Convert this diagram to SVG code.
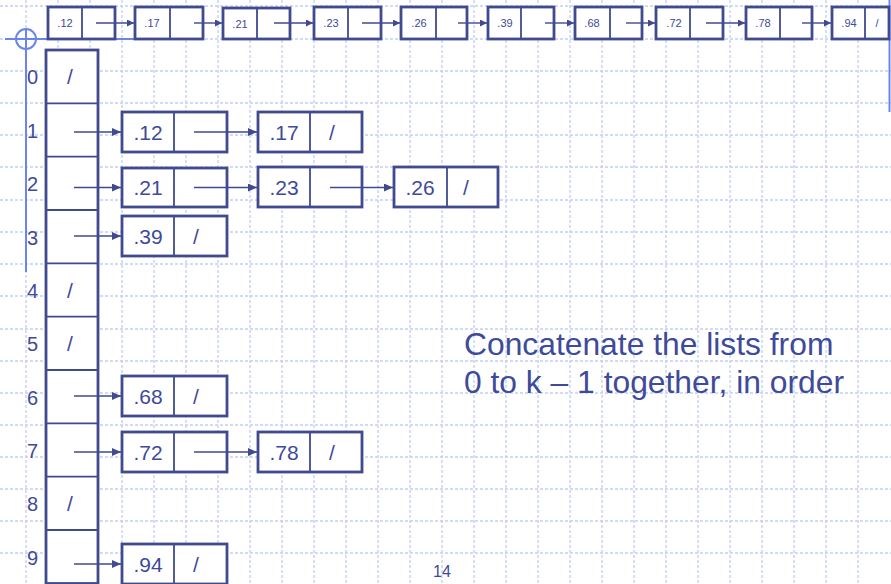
<svg xmlns="http://www.w3.org/2000/svg" width="891" height="584" viewBox="0 0 891 584">
<style>
.grid line{stroke:#c2cef5;stroke-width:1.3;stroke-dasharray:3 2}
.accent{stroke:#6a86ee;stroke-width:2;fill:none}
.bx{fill:#fff;stroke:#3f4a8f;stroke-width:2.8}
.dv{stroke:#3f4a8f;stroke-width:1.8}
.conn line{stroke:#3f4a8f;stroke-width:1.4}
.big{font-family:"Liberation Sans",Arial,sans-serif;font-size:21px;fill:#3e4a9a;text-anchor:middle}
.sm{font-family:"Liberation Sans",Arial,sans-serif;font-size:11px;fill:#3e4a9a;text-anchor:middle}
.idx{font-family:"Liberation Sans",Arial,sans-serif;font-size:20px;fill:#3e4a9a}
.title{font-family:"Liberation Sans",Arial,sans-serif;font-size:31.8px;fill:#3e4a9a}
</style>
<defs>
<marker id="ah" viewBox="0 0 10 10" refX="10" refY="5" markerWidth="7" markerHeight="7" markerUnits="userSpaceOnUse" orient="auto" preserveAspectRatio="none"><path d="M0,0 L10,5 L0,10 z" fill="#3f4a8f"/></marker>
<marker id="ahb" viewBox="0 0 10 10" refX="10" refY="5" markerWidth="9" markerHeight="8" markerUnits="userSpaceOnUse" orient="auto" preserveAspectRatio="none"><path d="M0,0 L10,5 L0,10 z" fill="#3f4a8f"/></marker>
</defs>
<rect width="891" height="584" fill="#fff"/>
<g class="grid">
<line x1="0" y1="6" x2="891" y2="6"/><line x1="0" y1="39" x2="891" y2="39"/><line x1="0" y1="71" x2="891" y2="71"/><line x1="0" y1="103" x2="891" y2="103"/><line x1="0" y1="135" x2="891" y2="135"/><line x1="0" y1="167" x2="891" y2="167"/><line x1="0" y1="200" x2="891" y2="200"/><line x1="0" y1="232" x2="891" y2="232"/><line x1="0" y1="264" x2="891" y2="264"/><line x1="0" y1="296" x2="891" y2="296"/><line x1="0" y1="329" x2="891" y2="329"/><line x1="0" y1="361" x2="891" y2="361"/><line x1="0" y1="393" x2="891" y2="393"/><line x1="0" y1="425" x2="891" y2="425"/><line x1="0" y1="457" x2="891" y2="457"/><line x1="0" y1="489" x2="891" y2="489"/><line x1="0" y1="521" x2="891" y2="521"/><line x1="0" y1="553" x2="891" y2="553"/>
<line x1="26" y1="0" x2="26" y2="584"/><line x1="58" y1="0" x2="58" y2="584"/><line x1="90" y1="0" x2="90" y2="584"/><line x1="122" y1="0" x2="122" y2="584"/><line x1="154" y1="0" x2="154" y2="584"/><line x1="186" y1="0" x2="186" y2="584"/><line x1="218" y1="0" x2="218" y2="584"/><line x1="250" y1="0" x2="250" y2="584"/><line x1="282" y1="0" x2="282" y2="584"/><line x1="314" y1="0" x2="314" y2="584"/><line x1="346" y1="0" x2="346" y2="584"/><line x1="378" y1="0" x2="378" y2="584"/><line x1="410" y1="0" x2="410" y2="584"/><line x1="442" y1="0" x2="442" y2="584"/><line x1="474" y1="0" x2="474" y2="584"/><line x1="506" y1="0" x2="506" y2="584"/><line x1="538" y1="0" x2="538" y2="584"/><line x1="570" y1="0" x2="570" y2="584"/><line x1="602" y1="0" x2="602" y2="584"/><line x1="634" y1="0" x2="634" y2="584"/><line x1="666" y1="0" x2="666" y2="584"/><line x1="698" y1="0" x2="698" y2="584"/><line x1="730" y1="0" x2="730" y2="584"/><line x1="762" y1="0" x2="762" y2="584"/><line x1="794" y1="0" x2="794" y2="584"/><line x1="826" y1="0" x2="826" y2="584"/><line x1="858" y1="0" x2="858" y2="584"/>
</g>
<g id="accent">
<line class="accent" x1="5" y1="39" x2="136" y2="39"/>
<line class="accent" x1="26" y1="29" x2="26" y2="272"/>
<circle class="accent" cx="26" cy="39" r="10" stroke-width="1.5"/>
<line class="accent" x1="889.5" y1="0" x2="889.5" y2="112" stroke-width="2.5"/>
</g>
<g id="top-list">
<g id="t12"><rect class="bx" x="48" y="7" width="67" height="32"/><line class="dv" x1="82" y1="7" x2="82" y2="39"/><text class="sm" x="65" y="27">.12</text></g>
<g id="t17"><rect class="bx" x="135" y="7" width="68" height="32"/><line class="dv" x1="170" y1="7" x2="170" y2="39"/><text class="sm" x="152" y="27">.17</text></g>
<g id="t21"><rect class="bx" x="223" y="8" width="67" height="31"/><line class="dv" x1="257" y1="8" x2="257" y2="39"/><text class="sm" x="240" y="28">.21</text></g>
<g id="t23"><rect class="bx" x="314" y="7" width="67" height="32"/><line class="dv" x1="348" y1="7" x2="348" y2="39"/><text class="sm" x="331" y="27">.23</text></g>
<g id="t26"><rect class="bx" x="401" y="7" width="66" height="32"/><line class="dv" x1="436" y1="7" x2="436" y2="39"/><text class="sm" x="419" y="27">.26</text></g>
<g id="t39"><rect class="bx" x="488" y="7" width="66" height="32"/><line class="dv" x1="521" y1="7" x2="521" y2="39"/><text class="sm" x="505" y="27">.39</text></g>
<g id="t68"><rect class="bx" x="575" y="7" width="67" height="32"/><line class="dv" x1="610" y1="7" x2="610" y2="39"/><text class="sm" x="592" y="27">.68</text></g>
<g id="t72"><rect class="bx" x="656" y="7" width="67" height="32"/><line class="dv" x1="690" y1="7" x2="690" y2="39"/><text class="sm" x="674" y="27">.72</text></g>
<g id="t78"><rect class="bx" x="746" y="7" width="66" height="32"/><line class="dv" x1="780" y1="7" x2="780" y2="39"/><text class="sm" x="763" y="27">.78</text></g>
<g id="t94"><rect class="bx" x="832" y="7" width="57" height="32"/><line class="dv" x1="865" y1="7" x2="865" y2="39"/><text class="sm" x="849" y="27">.94</text><text class="sm" x="877" y="27">/</text></g>
</g>
<g id="array">
<rect class="bx" x="46" y="50" width="52" height="533.5"/>
<g class="dv"><line x1="46" y1="103.3" x2="98" y2="103.3"/><line x1="46" y1="156.7" x2="98" y2="156.7"/><line x1="46" y1="210" x2="98" y2="210"/><line x1="46" y1="263.3" x2="98" y2="263.3"/><line x1="46" y1="316.7" x2="98" y2="316.7"/><line x1="46" y1="370" x2="98" y2="370"/><line x1="46" y1="423.3" x2="98" y2="423.3"/><line x1="46" y1="476.7" x2="98" y2="476.7"/><line x1="46" y1="530" x2="98" y2="530"/></g>
<text class="big" x="70" y="84">/</text>
<text class="big" x="70" y="298">/</text>
<text class="big" x="70" y="351">/</text>
<text class="big" x="70" y="511">/</text>
<text class="idx" x="27" y="84">0</text><text class="idx" x="27" y="138">1</text><text class="idx" x="27" y="191">2</text><text class="idx" x="27" y="245">3</text><text class="idx" x="27" y="298">4</text><text class="idx" x="27" y="351">5</text><text class="idx" x="27" y="405">6</text><text class="idx" x="27" y="458">7</text><text class="idx" x="27" y="511">8</text><text class="idx" x="27" y="565">9</text>
</g>
<g id="r12"><rect class="bx" x="122" y="112" width="105" height="40"/><line class="dv" x1="174" y1="112" x2="174" y2="152"/><text class="big" x="148" y="139.5">.12</text></g>
<g id="r17"><rect class="bx" x="258" y="112" width="104" height="40"/><line class="dv" x1="310" y1="112" x2="310" y2="152"/><text class="big" x="284" y="139.5">.17</text><text class="big" x="332" y="139.5">/</text></g>
<g id="r21"><rect class="bx" x="122" y="168" width="105" height="39"/><line class="dv" x1="174" y1="168" x2="174" y2="207"/><text class="big" x="148" y="195">.21</text></g>
<g id="r23"><rect class="bx" x="258" y="167" width="104" height="40"/><line class="dv" x1="310" y1="167" x2="310" y2="207"/><text class="big" x="284" y="195">.23</text></g>
<g id="r26"><rect class="bx" x="394" y="167" width="104" height="40"/><line class="dv" x1="447" y1="167" x2="447" y2="207"/><text class="big" x="420" y="195">.26</text><text class="big" x="466" y="195">/</text></g>
<g id="r39"><rect class="bx" x="122" y="216" width="105" height="40"/><line class="dv" x1="174" y1="216" x2="174" y2="256"/><text class="big" x="148" y="243.5">.39</text><text class="big" x="196" y="243.5">/</text></g>
<g id="r68"><rect class="bx" x="122" y="376" width="105" height="40"/><line class="dv" x1="174" y1="376" x2="174" y2="416"/><text class="big" x="148" y="403.5">.68</text><text class="big" x="196" y="403.5">/</text></g>
<g id="r72"><rect class="bx" x="122" y="432" width="105" height="40"/><line class="dv" x1="174" y1="432" x2="174" y2="472"/><text class="big" x="148" y="459.5">.72</text></g>
<g id="r78"><rect class="bx" x="258" y="432" width="104" height="40"/><line class="dv" x1="310" y1="432" x2="310" y2="472"/><text class="big" x="284" y="459.5">.78</text><text class="big" x="332" y="459.5">/</text></g>
<g id="r94"><rect class="bx" x="122" y="544" width="105" height="40"/><line class="dv" x1="174" y1="544" x2="174" y2="584"/><text class="big" x="148" y="571.5">.94</text><text class="big" x="196" y="571.5">/</text></g>
<g class="conn">
<line x1="96" y1="23" x2="134" y2="23" marker-end="url(#ah)"/>
<line x1="194" y1="23" x2="222" y2="23" marker-end="url(#ah)"/>
<line x1="274" y1="23" x2="313" y2="23" marker-end="url(#ah)"/>
<line x1="362" y1="23" x2="400" y2="23" marker-end="url(#ah)"/>
<line x1="458" y1="23" x2="487" y2="23" marker-end="url(#ah)"/>
<line x1="545" y1="23" x2="574" y2="23" marker-end="url(#ah)"/>
<line x1="626" y1="23" x2="655" y2="23" marker-end="url(#ah)"/>
<line x1="706" y1="23" x2="745" y2="23" marker-end="url(#ah)"/>
<line x1="802" y1="23" x2="831" y2="23" marker-end="url(#ah)"/>
<line x1="74" y1="132" x2="121" y2="132" marker-end="url(#ahb)"/>
<line x1="194" y1="132" x2="257" y2="132" marker-end="url(#ahb)"/>
<line x1="74" y1="187.5" x2="121" y2="187.5" marker-end="url(#ahb)"/>
<line x1="194" y1="187.5" x2="257" y2="187.5" marker-end="url(#ahb)"/>
<line x1="330" y1="187.5" x2="393" y2="187.5" marker-end="url(#ahb)"/>
<line x1="74" y1="236" x2="121" y2="236" marker-end="url(#ahb)"/>
<line x1="74" y1="396" x2="121" y2="396" marker-end="url(#ahb)"/>
<line x1="74" y1="452" x2="121" y2="452" marker-end="url(#ahb)"/>
<line x1="194" y1="452" x2="257" y2="452" marker-end="url(#ahb)"/>
<line x1="74" y1="564" x2="121" y2="564" marker-end="url(#ahb)"/>
</g>
<g id="caption">
<text class="title" x="464" y="355">Concatenate the lists from</text>
<text class="title" x="464" y="393">0 to k – 1 together, in order</text>
</g>
<text id="page" x="442" y="577" font-family="'Liberation Sans',Arial,sans-serif" font-size="16" fill="#3e4a9a" text-anchor="middle">14</text>
</svg>
